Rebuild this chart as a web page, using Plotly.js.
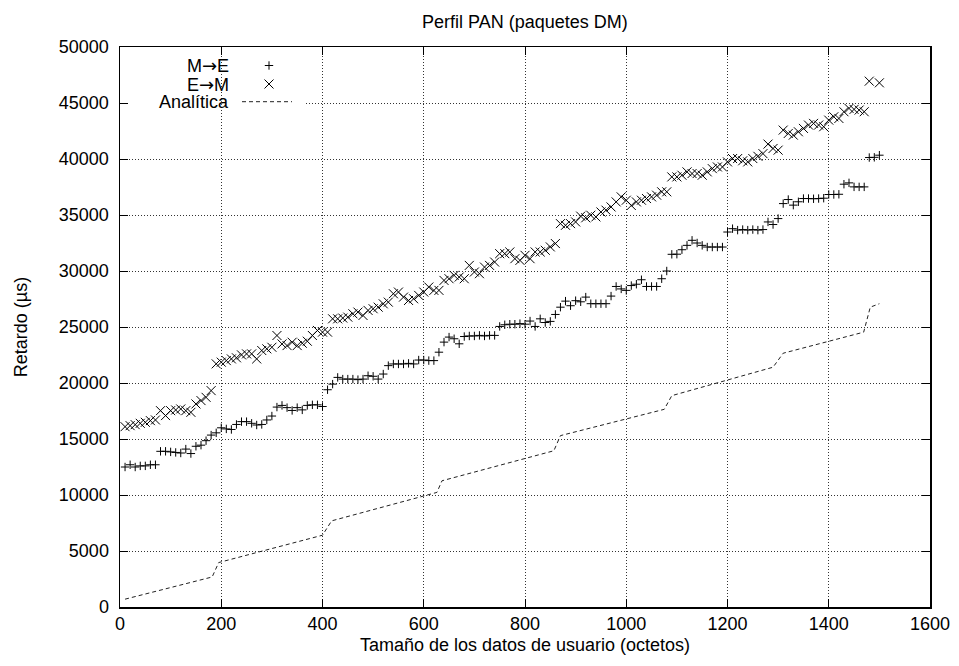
<!DOCTYPE html>
<html>
<head>
<meta charset="utf-8">
<script src="https://cdn.plot.ly/plotly-3.0.1.min.js"></script>
<style>html,body{margin:0;padding:0;background:#fff;}#chart{width:959px;height:666px;}</style>
</head>
<body>
<div id="chart"></div>
<script>
// Tamaño de los datos de usuario (octetos)
var sizes = [10,20,30,40,50,60,70,80,90,100,110,120,130,140,150,160,170,180,190,200,
210,220,230,240,250,260,270,280,290,300,310,320,330,340,350,360,370,380,390,400,
410,420,430,440,450,460,470,480,490,500,510,520,530,540,550,560,570,580,590,600,
610,620,630,640,650,660,670,680,690,700,710,720,730,740,750,760,770,780,790,800,
810,820,830,840,850,860,870,880,890,900,910,920,930,940,950,960,970,980,990,1000,
1010,1020,1030,1040,1050,1060,1070,1080,1090,1100,1110,1120,1130,1140,1150,1160,1170,1180,1190,1200,
1210,1220,1230,1240,1250,1260,1270,1280,1290,1300,1310,1320,1330,1340,1350,1360,1370,1380,1390,1400,
1410,1420,1430,1440,1450,1460,1470,1480,1490,1500];

// M->E (us)
var delayME = [12500,12700,12500,12600,12600,12700,12700,13900,13900,13850,13800,13750,14100,13700,14350,14450,14850,15350,15550,16000,
15900,15850,16300,16550,16550,16400,16250,16300,16700,17050,17850,18000,17800,17550,17800,17600,18000,18050,18050,17900,
19400,19900,20500,20350,20350,20350,20300,20350,20650,20600,20350,20800,21550,21700,21700,21700,21750,21700,22050,22050,
22000,22000,22750,23650,24100,23950,23500,24150,24200,24200,24250,24200,24250,24250,25050,25200,25250,25250,25300,25250,
25530,25050,25730,25400,25500,26120,26770,27310,26900,27350,27250,27670,27080,27080,27080,27080,27760,28620,28400,28270,
28700,28820,29220,28620,28620,28620,29310,30000,31490,31500,31900,32290,32740,32500,32290,32140,32140,32140,32140,33480,
33780,33650,33700,33650,33700,33650,33700,34380,34150,34680,36020,36380,35880,36180,36470,36470,36450,36470,36500,36830,
36830,36850,37750,37870,37510,37510,37510,40130,40150,40340];

// E->M (us)
var delayEM = [16100,16190,16280,16400,16490,16640,16700,17530,17090,17530,17590,17680,17530,17380,18130,18430,18720,19320,21710,21860,
22000,22150,22250,22510,22600,22600,22150,22900,23050,23190,24240,23490,23340,23640,23340,23550,23730,24240,24690,24540,
24540,25730,25730,25800,25880,26180,26330,26030,26480,26630,26770,27070,27220,27970,28120,27670,27370,27520,27820,28120,
28570,28270,28270,29160,29310,29610,29460,29310,30500,29910,29760,30350,30500,30800,31550,31550,31700,31100,30950,31400,
31100,31700,31700,31850,32150,32450,34230,34080,34230,34380,34900,34750,34980,34830,35270,35430,35720,36170,36620,36320,
35850,36170,36320,36470,36620,36770,37070,37070,38400,38400,38550,38850,38700,38700,38550,38850,39140,39290,39290,39740,
40040,40040,39840,39740,40040,40240,40480,41330,40940,40790,42580,42280,42130,42430,42730,43030,43180,43030,42880,43470,
43770,43620,44220,44520,44430,44370,44220,46950,null,46800];

// Analitica (vertices)
var anaX = [10,182,195,400,418,626,636,857,870,1075,1090,1290,1310,1469,1482,1500];
var anaY = [700,2680,3970,6410,7690,10230,11270,13950,15300,17650,18870,21410,22660,24540,26770,27080];

var xTicks = [0,200,400,600,800,1000,1200,1400,1600];
var yTicks = [0,5000,10000,15000,20000,25000,30000,35000,40000,45000,50000];

var ARROW = '<span style="font-family:DejaVu Sans">\u2192</span>';
var legendNames = ['M' + ARROW + 'E', 'E' + ARROW + 'M', 'Anal\u00edtica'];

var FONT = 'Liberation Sans, Arial, Helvetica, sans-serif';
var FS = 18;

var plusMarker = {symbol:'cross-thin-open', size:6, color:'#000', line:{color:'#000', width:1}};
var xMarker = {symbol:'x-thin-open', size:9, color:'#000', line:{color:'#000', width:1}};

var traces = [
  {x: anaX, y: anaY, mode:'lines', line:{color:'#222', width:1, dash:'4px,3px'}, showlegend:false, hoverinfo:'skip'},
  {x: sizes, y: delayME, mode:'markers', marker:plusMarker, showlegend:false},
  {x: sizes, y: delayEM, mode:'markers', marker:xMarker, showlegend:false},
  // legend keys (pixel-like overlay axes)
  {x:[269], y:[65.5], xaxis:'x2', yaxis:'y2', mode:'markers', marker:plusMarker, showlegend:false, hoverinfo:'skip'},
  {x:[269], y:[84], xaxis:'x2', yaxis:'y2', mode:'markers', marker:xMarker, showlegend:false, hoverinfo:'skip'},
  {x:[242,292], y:[101.7,101.7], xaxis:'x2', yaxis:'y2', mode:'lines', line:{color:'#222', width:1, dash:'4px,3px'}, showlegend:false, hoverinfo:'skip'}
];

var axisCommon = {
  showline:true, linecolor:'#000', linewidth:1.5, mirror:'ticks',
  ticks:'inside', ticklen:8, tickwidth:1, tickcolor:'#000',
  showgrid:true, gridcolor:'#333', gridwidth:1, griddash:'1px,2px',
  zeroline:false, tickfont:{family:FONT, size:FS, color:'#000'}, fixedrange:true
};

var layout = {
  width:959, height:666,
  margin:{l:120, r:29, t:47, b:59},
  paper_bgcolor:'#fff', plot_bgcolor:'#fff',
  font:{family:FONT, size:FS, color:'#000'},
  title:{text:'Perfil PAN (paquetes DM)', font:{family:FONT, size:FS, color:'#000'}, x:0.5473, xanchor:'center', xref:'container', y:1-22/666, yanchor:'middle', yref:'container'},
  xaxis: Object.assign({}, axisCommon, {range:[0,1600], tickvals:xTicks, ticktext:xTicks.map(String), ticklabelstandoff:0,
    title:{text:'Tama\u00f1o de los datos de usuario (octetos)', font:{family:FONT, size:FS, color:'#000'}, standoff:5}}),
  yaxis: Object.assign({}, axisCommon, {range:[0,50000], tickvals:yTicks, ticktext:yTicks.map(String), ticklabelstandoff:6,
    title:{text:'Retardo (\u00b5s)', font:{family:FONT, size:FS, color:'#000'}, standoff:26}}),
  xaxis2:{overlaying:'x', range:[120,930], visible:false, fixedrange:true},
  yaxis2:{overlaying:'y', range:[607,47], visible:false, fixedrange:true},
  shapes:[
    {type:'rect', layer:'between', xref:'x', yref:'y', x0:0, x1:367, y0:44880, y1:45120, fillcolor:'#fff', line:{width:0}}
  ],
  annotations: legendNames.map(function(t,i){
    return {text:t, xref:'x2', yref:'y2', x:231, y:[65.5,84,101.7][i], xanchor:'right', yanchor:'middle', showarrow:false,
      font:{family:FONT, size:FS, color:'#000'}};
  })
};

Plotly.newPlot('chart', traces, layout, {staticPlot:true, displayModeBar:false});
</script>
</body>
</html>
